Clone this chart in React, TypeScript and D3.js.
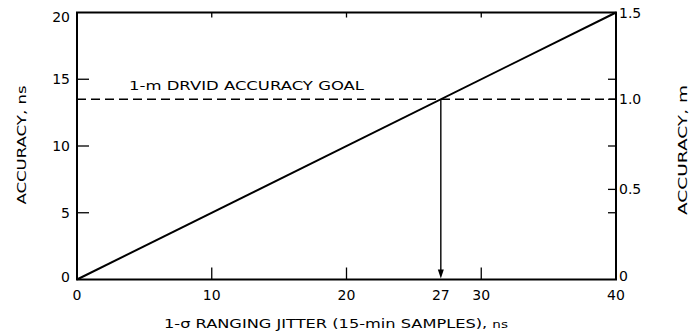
import React from "react";
import * as d3 from "d3";

// Jitter (ns) → accuracy (ns) relationship and annotations
const jitterDomain = [0, 40];
const accuracyDomain = [0, 20];
const lineJitter = [0, 40];
const lineAccuracy = [0, 20];
const xTicks = [0, 10, 20, 30, 40];
const xExtraTick = 27;
const yTicks = [0, 5, 10, 15, 20];
const metresPerNs = 1 / 13.5;
const mTicks = [0, 0.5, 1.0];
const mTopLabel = 1.5;
const goalMetres = 1.0;

const W = 697;
const H = 333;
const left = 77;
const right = 616;
const top = 12.5;
const bottom = 279.5;

const FONT = "'DejaVu Sans', sans-serif";

export default function App() {
  const x = d3.scaleLinear().domain(jitterDomain).range([left, right]);
  const y = d3.scaleLinear().domain(accuracyDomain).range([bottom, top]);
  const yM = d3
    .scaleLinear()
    .domain([0, accuracyDomain[1] * metresPerNs])
    .range([bottom, top]);

  const line = d3
    .line<number>()
    .x((_, i) => x(lineJitter[i]))
    .y((d) => y(d));

  const goalY = yM(goalMetres);
  const goalX = x(xExtraTick);

  // nudge the end labels so they sit clear of the frame corners
  const yLabelPos = (t: number) => (t === 20 ? y(t) + 5 : t === 0 ? y(t) - 2 : y(t));
  const mLabelPos = (t: number) => (t === 0 ? yM(t) - 3 : yM(t));

  return (
    <svg
      width={W}
      height={H}
      style={{ position: "absolute", left: 0, top: 0, background: "#fff" }}
      fontFamily={FONT}
    >
      <rect x={0} y={0} width={W} height={H} fill="#fff" />
      {/* inward ticks on left and right borders */}
      {yTicks.slice(1, -1).map((t) => (
        <g key={"yt" + t}>
          <line x1={left} x2={left + 12} y1={y(t)} y2={y(t)} stroke="#000" strokeWidth={1.3} />
          <line x1={right - 8} x2={right} y1={y(t)} y2={y(t)} stroke="#000" strokeWidth={1.3} />
        </g>
      ))}
      {mTicks.slice(1).map((t) => (
        <line key={"mt" + t} x1={right - 8} x2={right} y1={yM(t)} y2={yM(t)} stroke="#000" strokeWidth={1.3} />
      ))}
      {/* bottom and top ticks */}
      {xTicks.slice(1, -1).map((t) => (
        <g key={"xt" + t}>
          <line x1={x(t)} x2={x(t)} y1={bottom} y2={bottom - 12} stroke="#000" strokeWidth={1.3} />
          <line x1={x(t)} x2={x(t)} y1={top} y2={top + 5} stroke="#000" strokeWidth={1.3} />
        </g>
      ))}
      {/* goal line */}
      <line
        x1={left}
        x2={right}
        y1={goalY}
        y2={goalY}
        stroke="#000"
        strokeWidth={1.4}
        strokeDasharray="9,5"
      />
      <text x={129} y={90} fontSize={12} textLength={235} lengthAdjust="spacingAndGlyphs">
        1-m DRVID ACCURACY GOAL
      </text>
      {/* accuracy line */}
      <path d={line(lineAccuracy) ?? ""} fill="none" stroke="#000" strokeWidth={2} />
      {/* arrow down to 27 ns */}
      <line x1={goalX} x2={goalX} y1={goalY} y2={bottom - 6} stroke="#000" strokeWidth={1.4} />
      <path
        d={`M${goalX - 3},${bottom - 10} L${goalX + 3},${bottom - 10} L${goalX},${bottom - 1} Z`}
        fill="#000"
      />
      {/* frame */}
      <rect
        x={left}
        y={top}
        width={right - left}
        height={bottom - top}
        fill="none"
        stroke="#000"
        strokeWidth={2}
      />
      {/* left tick labels */}
      {yTicks.map((t) => (
        <text key={"yl" + t} x={left - 7} y={yLabelPos(t)} dy="0.35em" textAnchor="end" fontSize={14}>
          {t}
        </text>
      ))}
      {/* right tick labels */}
      {mTicks.map((t) => (
        <text key={"ml" + t} x={right + 3} y={mLabelPos(t)} dy="0.35em" fontSize={14}>
          {t === 0 ? "0" : t.toFixed(1)}
        </text>
      ))}
      <text x={right + 3} y={y(20) + 1} dy="0.35em" fontSize={14}>
        {mTopLabel.toFixed(1)}
      </text>
      {/* bottom tick labels */}
      {[...xTicks, xExtraTick].map((t) => (
        <text key={"xl" + t} x={x(t)} y={bottom + 20} textAnchor="middle" fontSize={14}>
          {t}
        </text>
      ))}
      {/* axis titles */}
      <text x={336} y={328} textAnchor="middle" fontSize={12} textLength={344} lengthAdjust="spacingAndGlyphs">
        1-σ RANGING JITTER (15-min SAMPLES), <tspan fontSize={10}>ns</tspan>
      </text>
      <text
        transform={`translate(26,145) rotate(-90)`}
        textAnchor="middle"
        fontSize={12}
        textLength={119}
        lengthAdjust="spacingAndGlyphs"
      >
        ACCURACY, ns
      </text>
      <text
        transform={`translate(687,150) rotate(-90)`}
        textAnchor="middle"
        fontSize={12}
        textLength={130}
        lengthAdjust="spacingAndGlyphs"
      >
        ACCURACY, m
      </text>
    </svg>
  );
}
